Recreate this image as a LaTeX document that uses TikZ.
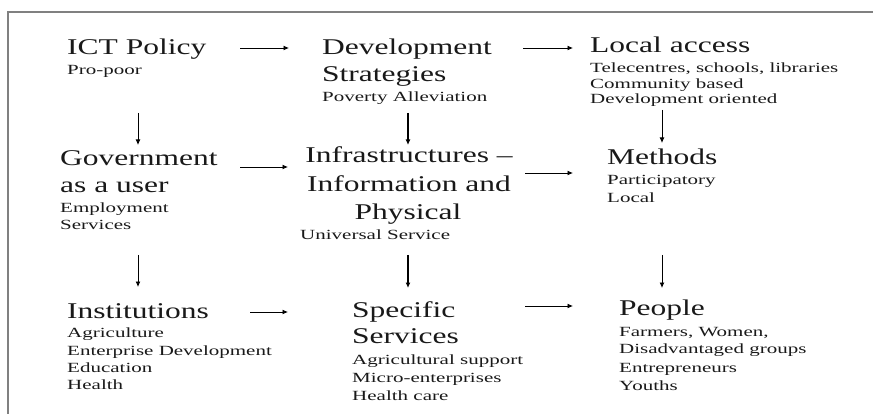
\documentclass[tikz,border=0pt]{standalone}
\usepackage{fontspec}
\usepackage{graphicx}
\setmainfont{Liberation Serif}
\newcommand\mytitle[1]{\scalebox{1.4}[1]{\fontsize{22.5}{27}\selectfont #1}}
\newcommand\mysub[1]{\scalebox{1.5}[1]{\fontsize{14}{17}\selectfont #1}}
\usetikzlibrary{arrows.meta}
\begin{document}
\begin{tikzpicture}[x=1pt,y=-1pt,
  ttl/.style={anchor=base west,inner sep=0pt,text=black!90},
  ttlc/.style={ttl,anchor=base},
  sub/.style={anchor=base west,inner sep=0pt,text=black!90},
  arr/.style={line width=0.9pt,-{Latex[length=5.5pt,width=5pt]}},
  frame/.style={draw=black!50,line width=1.6pt}]
\useasboundingbox (0,0) rectangle (873,414);
\draw[frame] (873,12) -- (8,12) -- (8,414);
% row 1
\node[ttl] (ict) at (67,55) {\mytitle{ICT Policy}};
\node[sub] (ict1) at (67,75) {\mysub{Pro-poor}};
\node[ttl] (dev) at (322,55) {\mytitle{Development}};
\node[ttl] (dev2) at (322,82) {\mytitle{Strategies}};
\node[sub] (dev3) at (322,102) {\mysub{Poverty Alleviation}};
\node[ttl] (loc) at (590,53) {\mytitle{Local access}};
\node[sub] (loc1) at (590,73) {\mysub{Telecentres, schools, libraries}};
\node[sub] (loc2) at (590,88.5) {\mysub{Community based}};
\node[sub] (loc3) at (590,104) {\mysub{Development oriented}};
% row 2
\node[ttl] (gov) at (60,166) {\mytitle{Government}};
\node[ttl] (gov2) at (60,193) {\mytitle{as a user}};
\node[sub] (gov3) at (60,213) {\mysub{Employment}};
\node[sub] (gov4) at (60,230) {\mysub{Services}};
\node[ttlc] (inf) at (409,163) {\mytitle{Infrastructures –}};
\node[ttlc] (inf2) at (409,192) {\mytitle{Information and}};
\node[ttlc] (inf3) at (408,220) {\mytitle{Physical}};
\node[sub] (inf4) at (300,240) {\mysub{Universal Service}};
\node[ttl] (met) at (607,165) {\mytitle{Methods}};
\node[sub] (met1) at (607,185) {\mysub{Participatory}};
\node[sub] (met2) at (607,203) {\mysub{Local}};
% row 3
\node[ttl] (ins) at (67,318) {\mytitle{Institutions}};
\node[sub] (ins1) at (67,337) {\mysub{Agriculture}};
\node[sub] (ins2) at (67,355) {\mysub{Enterprise Development}};
\node[sub] (ins3) at (67,372) {\mysub{Education}};
\node[sub] (ins4) at (67,389) {\mysub{Health}};
\node[ttl] (spe) at (352,317) {\mytitle{Specific}};
\node[ttl] (spe2) at (352,343) {\mytitle{Services}};
\node[sub] (spe3) at (352,364) {\mysub{Agricultural support}};
\node[sub] (spe4) at (352,382) {\mysub{Micro-enterprises}};
\node[sub] (spe5) at (352,400) {\mysub{Health care}};
\node[ttl] (peo) at (619,315) {\mytitle{People}};
\node[sub] (peo1) at (619,336) {\mysub{Farmers, Women,}};
\node[sub] (peo2) at (619,353) {\mysub{Disadvantaged groups}};
\node[sub] (peo3) at (619,372) {\mysub{Entrepreneurs}};
\node[sub] (peo4) at (619,390) {\mysub{Youths}};
% connector ends
\coordinate (h1a) at (240,48);  \coordinate (h1b) at (289,48);
\coordinate (h2a) at (523,48);  \coordinate (h2b) at (573,48);
\coordinate (v1a) at (138,113); \coordinate (v1b) at (138,145);
\coordinate (v2a) at (408,113); \coordinate (v2b) at (408,145);
\coordinate (v3a) at (662,110); \coordinate (v3b) at (662,143);
\coordinate (h3a) at (240,167); \coordinate (h3b) at (288,167);
\coordinate (h4a) at (525,173); \coordinate (h4b) at (573,173);
\coordinate (v4a) at (138,255); \coordinate (v4b) at (138,287);
\coordinate (v5a) at (408,255); \coordinate (v5b) at (408,288);
\coordinate (v6a) at (662,255); \coordinate (v6b) at (662,288);
\coordinate (h5a) at (250,312); \coordinate (h5b) at (288,312);
\coordinate (h6a) at (525,306); \coordinate (h6b) at (573,306);
\draw[arr] (h1a) -- (h1b);
\draw[arr] (h2a) -- (h2b);
\draw[arr] (v1a) -- (v1b);
\draw[arr,line width=1.3pt] (v2a) -- (v2b);
\draw[arr] (v3a) -- (v3b);
\draw[arr] (h3a) -- (h3b);
\draw[arr] (h4a) -- (h4b);
\draw[arr] (v4a) -- (v4b);
\draw[arr,line width=1.3pt] (v5a) -- (v5b);
\draw[arr] (v6a) -- (v6b);
\draw[arr] (h5a) -- (h5b);
\draw[arr] (h6a) -- (h6b);
\end{tikzpicture}
\end{document}
